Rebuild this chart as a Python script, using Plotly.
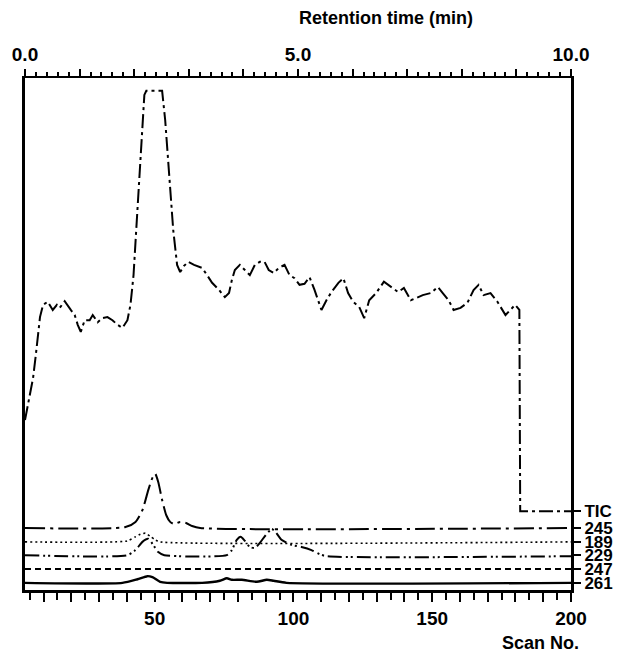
import plotly.graph_objects as go

# ---------------- data ----------------
tic_scan = [3.3, 4.7, 6.2, 7.2, 8.7, 9.8, 11.5, 13.3, 14.8, 15.8, 17.6, 19.8, 21.2, 22.3, 23.4,
            24.8, 26.6, 27.7, 29.5, 31.2, 33.0, 34.8, 36.6, 38.4, 40.2, 41.3, 42.4, 43.8, 45.2,
            46.3, 47.0, 52.7, 53.8, 55.3, 56.7, 58.1, 59.2, 60.6, 62.1, 64.2, 67.1, 68.9, 70.7,
            73.2, 75.3, 76.8, 77.8, 78.9, 80.7, 82.5, 84.3, 86.1, 87.9, 89.6, 91.1, 92.9, 94.7,
            96.8, 98.6, 100.4, 102.2, 104.0, 105.8, 107.6, 110.1, 111.9, 113.7, 116.2, 118.0,
            119.7, 121.5, 123.7, 125.5, 127.3, 129.8, 132.6, 135.2, 137.7, 139.8, 142.3, 144.1,
            146.6, 149.5, 152.0, 153.8, 155.9, 157.7, 160.2, 162.7, 164.9, 166.7, 168.5, 171.0,
            173.5, 176.4, 178.1, 179.9, 181.4, 181.7, 200.0]
tic_int = [33.2, 37.1, 41.4, 45.9, 53.3, 55.7, 56.3, 54.7, 55.7, 55.1, 56.4, 54.7, 53.7, 51.8, 50.4,
           52.7, 52.7, 53.7, 52.3, 53.1, 53.3, 52.7, 51.8, 51.2, 52.7, 55.7, 61.5, 74.2, 87.9,
           96.7, 97.5, 97.5, 91.8, 80.1, 70.3, 63.5, 62.1, 63.3, 64.1, 63.5, 62.9, 61.5, 60.0,
           58.6, 57.2, 58.0, 60.5, 62.5, 63.5, 62.5, 61.5, 63.5, 64.1, 64.1, 62.5, 61.9, 62.9,
           63.5, 61.5, 60.9, 59.6, 59.8, 61.1, 58.6, 54.7, 56.6, 58.2, 60.0, 60.9,
           58.0, 56.3, 55.3, 53.1, 56.6, 58.0, 60.2, 59.2, 58.2, 59.0, 56.6, 57.0,
           57.6, 58.0, 59.2, 58.0, 56.6, 54.7, 55.1, 56.1, 58.6, 59.6, 57.6, 58.0,
           56.3, 53.7, 54.7, 55.7, 54.7, 15.4, 15.4]

m245_scan = [3.3, 39.5, 43.1, 45.6, 47.7, 49.2, 50.2, 51.3, 52.7, 54.2, 55.6, 57.0, 59.2, 61.3, 63.5, 66.4, 200]
m245_int = [12.1, 12.3, 13.3, 15.6, 19.5, 21.9, 22.7, 21.1, 17.6, 14.6, 13.3, 12.9, 13.3, 13.1, 12.5, 12.1, 12.1]

m189_scan = [3.3, 40.2, 43.1, 44.9, 46.7, 48.4, 50.2, 52.0, 200]
m189_int = [9.4, 9.6, 10.4, 10.9, 11.1, 10.5, 9.8, 9.4, 9.4]

m229_scan = [3.3, 40.2, 43.1, 45.6, 47.7, 49.5, 51.3, 53.5, 76.0, 77.8, 79.6, 81.0, 82.5, 84.3, 86.1,
             87.9, 90.0, 92.2, 93.6, 95.7, 99.3, 102.9, 106.5, 109.4, 111.9, 200]
m229_int = [6.8, 6.8, 7.8, 9.4, 10.0, 8.8, 7.4, 6.8, 6.8, 7.8, 9.8, 10.4, 9.6, 8.4, 8.2,
            9.2, 10.7, 11.9, 11.3, 9.8, 8.8, 8.4, 7.8, 7.0, 6.6, 6.6]

m247_scan = [3.3, 200]
m247_int = [4.1, 4.1]

m261_scan = [3.3, 38.4, 43.8, 47.4, 49.2, 52.0, 54.5, 67.1, 73.5, 76.0, 77.8, 81.4, 86.8, 90.4, 92.9, 97.5, 200]
m261_int = [1.4, 1.4, 2.1, 2.7, 2.5, 1.6, 1.4, 1.4, 1.8, 2.3, 2.0, 2.0, 1.6, 2.0, 1.8, 1.4, 1.4]

trace_labels = ["TIC", "245", "189", "229", "247", "261"]
trace_baselines = [15.4, 12.1, 9.4, 6.8, 4.1, 1.4]

scan_ticks = list(range(10, 201, 10))
scan_labels = {50: "50", 100: "100", 150: "150", 200: "200"}
time_ticks = list(range(0, 11))
time_labels = {0: "0.0", 5: "5.0", 10: "10.0"}

# ---------------- figure ----------------
FONT = "Liberation Sans, Arial, sans-serif"
fig = go.Figure()

series = [
    (tic_scan, tic_int, "14px,4px,3px,4px", 2.0, "linear"),
    (m245_scan, m245_int, "20px,5px,3px,5px", 2.0, "spline"),
    (m189_scan, m189_int, "2px,3px", 1.6, "spline"),
    (m229_scan, m229_int, "14px,4px,2px,3px,2px,4px", 2.0, "spline"),
    (m247_scan, m247_int, "6px,4px", 2.0, "linear"),
    (m261_scan, m261_int, None, 2.4, "spline"),
]
for xs, ys, dash, w, shape in series:
    line = dict(color="black", width=w, shape=shape)
    if shape == "spline":
        line["smoothing"] = 0.6
    if dash:
        line["dash"] = dash
    fig.add_trace(go.Scatter(x=xs, y=ys, mode="lines", line=line,
                             showlegend=False, hoverinfo="skip"))

# invisible trace that carries the retention-time (top) axis
fig.add_trace(go.Scatter(x=[0, 10], y=[0, 0], xaxis="x2", mode="lines",
                         line=dict(width=0, color="rgba(0,0,0,0)"),
                         showlegend=False, hoverinfo="skip"))

tickfont = dict(family=FONT, size=19, color="black", weight="bold")

fig.update_layout(
    width=625, height=654,
    margin=dict(l=22, r=54, t=78, b=64),
    paper_bgcolor="white", plot_bgcolor="white",
    xaxis=dict(
        range=[3.3, 200], showgrid=False, zeroline=False,
        showline=True, linecolor="black", linewidth=3,
        tickmode="array", tickvals=scan_ticks,
        ticktext=[scan_labels.get(t, "") for t in scan_ticks],
        ticks="outside", ticklen=9, tickwidth=2, tickcolor="black",
        minor=dict(dtick=5, tick0=0, ticks="outside", ticklen=7, tickwidth=2, tickcolor="black"),
        tickfont=tickfont,
    ),
    xaxis2=dict(
        range=[0, 10], overlaying="x", side="top", anchor="y",
        showgrid=False, zeroline=False,
        showline=True, linecolor="black", linewidth=2,
        tickmode="array", tickvals=time_ticks,
        ticktext=[time_labels.get(t, "") for t in time_ticks],
        ticks="outside", ticklen=7, tickwidth=2, tickcolor="black",
        minor=dict(dtick=0.2, tick0=0, ticks="outside", ticklen=4, tickwidth=1.5, tickcolor="black"),
        tickfont=tickfont,
    ),
    yaxis=dict(
        range=[0, 100], side="right", showgrid=False, zeroline=False,
        showline=True, mirror=True, linecolor="black", linewidth=3,
        tickmode="array", tickvals=trace_baselines, ticktext=trace_labels,
        ticks="outside", ticklen=7, tickwidth=2, tickcolor="black",
        tickfont=dict(family=FONT, size=17, color="black", weight="bold"),
    ),
    annotations=[
        dict(text="Retention time (min)", xref="paper", yref="paper", x=0.661, y=1.117,
             showarrow=False, xanchor="center", yanchor="middle",
             font=dict(family=FONT, size=18, color="black", weight="bold")),
        dict(text="Scan No.", xref="paper", yref="paper", x=0.945, y=-0.104,
             showarrow=False, xanchor="center", yanchor="middle",
             font=dict(family=FONT, size=18, color="black", weight="bold")),
    ],
)

fig.write_html("out.html")
